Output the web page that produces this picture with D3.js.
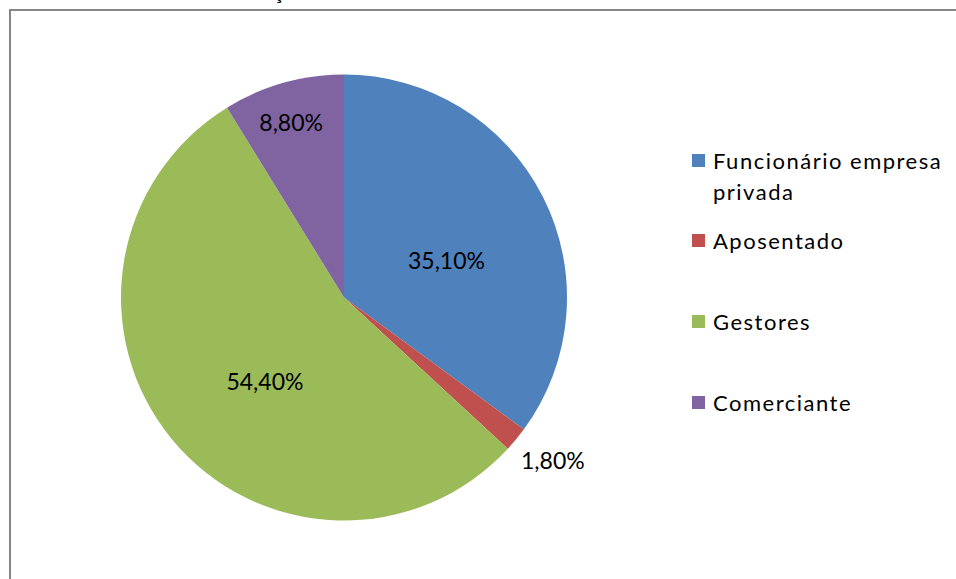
<!DOCTYPE html>
<html>
<head>
<meta charset="utf-8">
<script src="https://cdn.jsdelivr.net/npm/d3@7"></script>
<style>
  html, body { margin: 0; padding: 0; background: #fff; }
  svg { display: block; }
  text { font-family: Lato, "Open Sans", sans-serif; fill: #000; }
</style>
</head>
<body>
<svg id="chart" width="956" height="579"></svg>
<script>
// Occupation shares (percent)
const categories = ["Funcionário empresa privada", "Aposentado", "Gestores", "Comerciante"];
const legendLines = [["Funcionário empresa", "privada"], ["Aposentado"], ["Gestores"], ["Comerciante"]];
const values = [35.1, 1.8, 54.4, 8.8];
const valueLabels = ["35,10%", "1,80%", "54,40%", "8,80%"];
const colors = ["#4F81BD", "#C0504D", "#9BBB59", "#8064A2"];
const titleText = "Distribuição";

const W = 956, H = 579;
const svg = d3.select("#chart");

// chart frame (runs past the right and bottom edges)
svg.append("rect")
  .attr("x", 10).attr("y", 10)
  .attr("width", W + 20).attr("height", H + 20)
  .attr("fill", "#fff")
  .attr("stroke", "#878787")
  .attr("stroke-width", 2);

// title, mostly above the visible area
const title = svg.append("text")
  .attr("y", -1)
  .attr("font-size", 22)
  .text(titleText);
const cIdx = titleText.indexOf("ç");
const cx0 = title.node().getStartPositionOfChar(cIdx).x;
title.attr("x", 273 - cx0);

// pie
const cx = 344, cy = 297.5, R = 223;
const pie = d3.pie().sort(null).value(d => d);
const arcs = pie(values);
const arc = d3.arc().innerRadius(0).outerRadius(R);

const g = svg.append("g").attr("transform", `translate(${cx},${cy})`);
g.selectAll("path.slice")
  .data(arcs)
  .join("path")
  .attr("class", "slice")
  .attr("d", arc)
  .attr("fill", (d, i) => colors[i]);

// data labels: radius fraction along the slice bisector plus a small nudge
const labelPlacement = [
  { k: 0.50, dx: 3, dy: 14 },
  { k: 1.19, dx: 4, dy: -5 },
  { k: 0.50, dx: 7, dy: 13 },
  { k: 0.82, dx: -3, dy: 1 }
];
g.selectAll("text.val")
  .data(arcs)
  .join("text")
  .attr("class", "val")
  .attr("font-size", 23)
  .attr("text-anchor", "middle")
  .attr("dy", "0.36em")
  .attr("transform", (d, i) => {
    const p = labelPlacement[i];
    const a = (d.startAngle + d.endAngle) / 2;
    const r = R * p.k;
    return `translate(${Math.sin(a) * r + p.dx},${-Math.cos(a) * r + p.dy})`;
  })
  .text((d, i) => valueLabels[i]);

// legend
const legendX = 692, textX = 713, lineH = 31;
const itemBaselines = [169, 249, 330, 411];
const lg = svg.append("g");
categories.forEach((c, i) => {
  const base = itemBaselines[i];
  lg.append("rect")
    .attr("x", legendX).attr("y", base - 15)
    .attr("width", 13).attr("height", 13)
    .attr("fill", colors[i]);
  const t = lg.append("text")
    .attr("x", textX).attr("y", base)
    .attr("font-size", 22)
    .attr("letter-spacing", "1.5px");
  legendLines[i].forEach((ln, j) => {
    t.append("tspan").attr("x", textX).attr("y", base + j * lineH).text(ln);
  });
});
</script>
</body>
</html>
